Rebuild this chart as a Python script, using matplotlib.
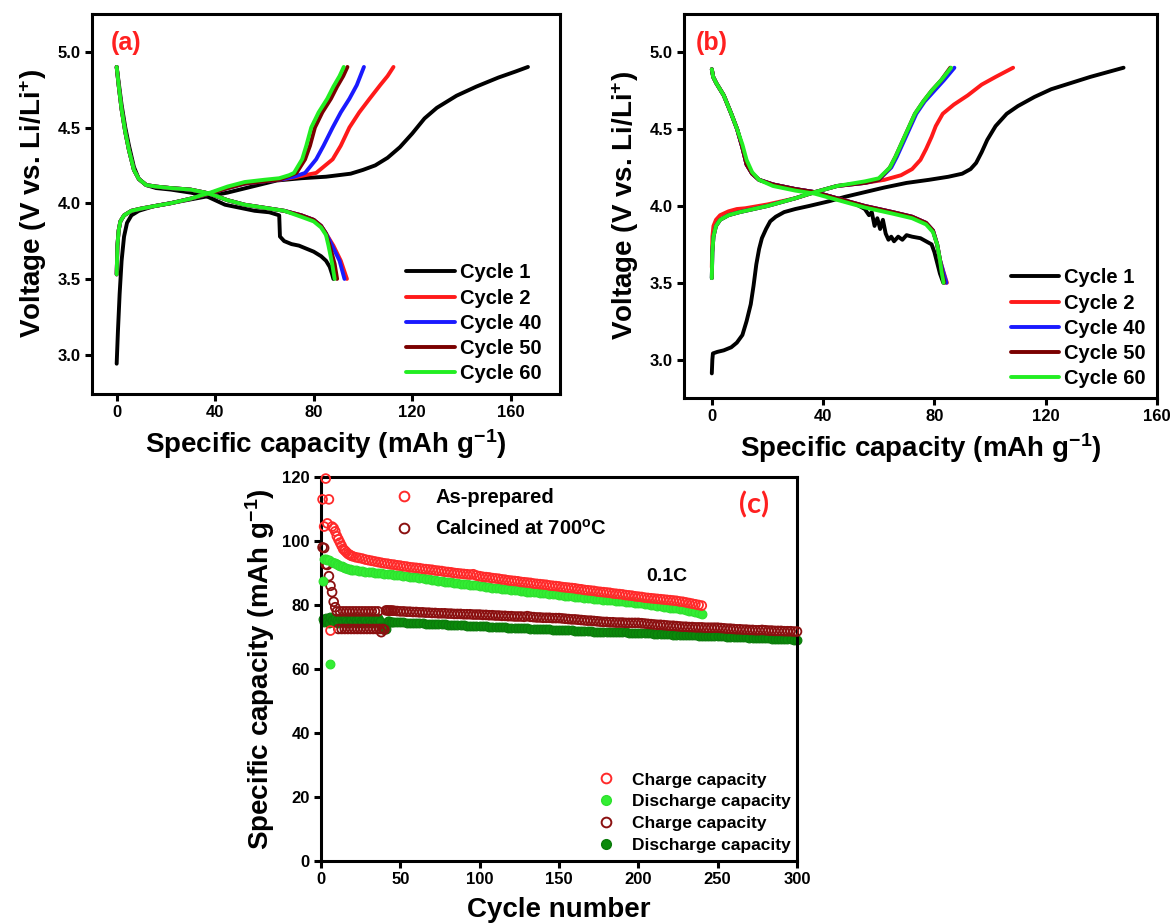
import matplotlib
matplotlib.use('Agg')
import matplotlib.pyplot as plt
from matplotlib.lines import Line2D

plt.rcParams['font.family'] = ['Liberation Sans', 'DejaVu Sans']
plt.rcParams['font.weight'] = 'bold'
plt.rcParams['mathtext.fontset'] = 'custom'
plt.rcParams['mathtext.rm'] = 'Liberation Sans:bold'
plt.rcParams['mathtext.bf'] = 'Liberation Sans:bold'
plt.rcParams['mathtext.it'] = 'Liberation Sans:bold'
plt.rcParams['axes.linewidth'] = 2.2

# ---------------- (a) as-prepared: charge / discharge profiles ----------------
a_c1_chg_cap = [0, 0.5, 1.2, 2.0, 3.0, 4.2, 6, 9, 15, 25, 35, 45, 55, 65, 75, 85, 95, 100, 105, 110, 115, 120, 125, 130, 138, 146, 155, 162, 167]
a_c1_chg_v = [2.94, 3.15, 3.40, 3.62, 3.78, 3.87, 3.92, 3.95, 3.98, 4.01, 4.04, 4.07, 4.11, 4.15, 4.165, 4.175, 4.195, 4.22, 4.25, 4.30, 4.37, 4.46, 4.56, 4.63, 4.71, 4.77, 4.83, 4.87, 4.90]
a_c1_dis_cap = [0, 0.8, 2, 3.5, 5, 7, 9, 12, 16, 22, 30, 36, 40, 44, 50, 56, 62, 66, 66.3, 68, 71, 74, 77, 80, 83, 85, 86.5, 87.5, 88]
a_c1_dis_v = [4.90, 4.80, 4.65, 4.50, 4.38, 4.24, 4.16, 4.12, 4.10, 4.09, 4.07, 4.05, 4.02, 3.99, 3.97, 3.95, 3.94, 3.92, 3.78, 3.75, 3.73, 3.72, 3.70, 3.68, 3.65, 3.62, 3.58, 3.53, 3.50]

a_c2_chg_cap = [0, 0.3, 0.8, 1.5, 3, 6, 10, 15, 22, 30, 38, 45, 52, 60, 66, 72, 81, 87.7, 91, 94.5, 98.5, 102.7, 107, 110, 112.4]
a_c2_chg_v = [3.53, 3.72, 3.82, 3.88, 3.92, 3.95, 3.965, 3.98, 4.0, 4.03, 4.065, 4.10, 4.13, 4.145, 4.155, 4.17, 4.20, 4.29, 4.38, 4.50, 4.60, 4.69, 4.78, 4.84, 4.90]
a_c40_chg_cap = [0, 0.3, 0.8, 1.5, 3, 6, 10, 15, 22, 30, 38, 45, 52, 60, 66, 72, 76.5, 81, 84, 87.7, 91, 94.5, 97.5, 100.4]
a_c40_chg_v = [3.53, 3.72, 3.82, 3.88, 3.92, 3.95, 3.965, 3.98, 4.0, 4.03, 4.065, 4.10, 4.13, 4.145, 4.155, 4.175, 4.20, 4.29, 4.38, 4.50, 4.60, 4.69, 4.78, 4.90]
a_c50_chg_cap = [0, 0.3, 0.8, 1.5, 3, 6, 10, 15, 22, 30, 38, 45, 52, 60, 66, 70, 73, 76.5, 78.5, 80.5, 83.5, 87, 89.5, 92, 93.7]
a_c50_chg_v = [3.53, 3.72, 3.82, 3.88, 3.92, 3.95, 3.965, 3.98, 4.0, 4.03, 4.065, 4.10, 4.13, 4.145, 4.155, 4.18, 4.20, 4.29, 4.38, 4.50, 4.60, 4.69, 4.77, 4.84, 4.90]
a_c60_chg_cap = [0, 0.3, 0.8, 1.5, 3, 6, 10, 15, 22, 30, 38, 45, 52, 60, 66, 70, 72, 75.3, 77, 79, 82, 85.5, 88, 90.5, 92.2]
a_c60_chg_v = [3.53, 3.72, 3.82, 3.88, 3.92, 3.95, 3.965, 3.98, 4.0, 4.03, 4.07, 4.11, 4.14, 4.155, 4.165, 4.185, 4.20, 4.29, 4.38, 4.50, 4.60, 4.69, 4.77, 4.84, 4.90]

a_c2_dis_cap = [0, 0.8, 2, 3.5, 5, 7, 9, 12, 16, 22, 30, 36, 40, 45, 52, 60, 68, 75, 80, 83, 85, 88, 91, 93.5]
a_c2_dis_v = [4.90, 4.78, 4.62, 4.47, 4.35, 4.22, 4.16, 4.12, 4.11, 4.10, 4.09, 4.07, 4.05, 4.02, 3.99, 3.97, 3.95, 3.92, 3.89, 3.85, 3.80, 3.72, 3.62, 3.50]
a_c40_dis_cap = [0, 0.8, 2, 3.5, 5, 7, 9, 12, 16, 22, 30, 36, 40, 45, 52, 60, 68, 75, 80, 83, 85, 87.5, 90.5, 92.5]
a_c40_dis_v = [4.90, 4.78, 4.62, 4.47, 4.35, 4.22, 4.16, 4.12, 4.11, 4.10, 4.09, 4.07, 4.05, 4.02, 3.99, 3.97, 3.95, 3.92, 3.89, 3.85, 3.80, 3.72, 3.62, 3.50]
a_c50_dis_cap = [0, 0.8, 2, 3.5, 5, 7, 9, 12, 16, 22, 30, 36, 40, 45, 52, 60, 68, 75, 80, 83, 85, 86.5, 88.5, 89.5]
a_c50_dis_v = [4.90, 4.78, 4.62, 4.47, 4.35, 4.22, 4.16, 4.12, 4.11, 4.10, 4.09, 4.07, 4.05, 4.02, 3.99, 3.97, 3.95, 3.92, 3.89, 3.85, 3.80, 3.72, 3.60, 3.50]
a_c60_dis_cap = [0, 0.8, 2, 3.5, 5, 7, 9, 12, 16, 22, 30, 36, 40, 45, 52, 60, 68, 75, 80, 83, 85, 86, 87.5, 88.5]
a_c60_dis_v = [4.90, 4.78, 4.62, 4.47, 4.35, 4.22, 4.16, 4.12, 4.11, 4.10, 4.09, 4.07, 4.05, 4.02, 3.99, 3.97, 3.95, 3.91, 3.88, 3.84, 3.79, 3.72, 3.60, 3.50]

# ---------------- (b) calcined: charge / discharge profiles ----------------
b_c1_chg_cap = [0, 0.2, 0.4, 2, 4.3, 7, 9, 11, 12.5, 14, 15, 16, 17, 18, 19.5, 21, 23, 26, 30, 35, 42, 48, 55, 62, 70, 78, 85, 90, 93, 95, 97, 99, 102, 106, 110, 116, 122, 129, 136, 142, 148]
b_c1_chg_v = [2.91, 3.0, 3.04, 3.05, 3.06, 3.08, 3.11, 3.16, 3.25, 3.36, 3.48, 3.62, 3.72, 3.79, 3.85, 3.90, 3.93, 3.96, 3.98, 4.0, 4.03, 4.06, 4.09, 4.12, 4.15, 4.17, 4.19, 4.21, 4.24, 4.28, 4.35, 4.43, 4.52, 4.60, 4.65, 4.71, 4.76, 4.80, 4.84, 4.87, 4.90]
b_c1_dis_cap = [0, 0.5, 1.6, 4.3, 7, 9.1, 11, 12.5, 14.5, 17, 22, 30, 37, 45, 52, 55, 56.5, 57.5, 58.5, 59.5, 60.5, 61.5, 62.5, 63.5, 64.5, 65.5, 67, 68.5, 70, 72, 75, 77, 79, 80, 81, 82, 83.2]
b_c1_dis_v = [4.89, 4.84, 4.80, 4.72, 4.60, 4.50, 4.38, 4.27, 4.21, 4.17, 4.14, 4.11, 4.09, 4.05, 4.01, 3.98, 3.94, 3.96, 3.87, 3.92, 3.85, 3.91, 3.82, 3.78, 3.80, 3.77, 3.80, 3.78, 3.81, 3.80, 3.79, 3.77, 3.75, 3.70, 3.63, 3.56, 3.50]

b_c2_chg_cap = [0, 0.2, 0.6, 1.5, 3, 6, 9, 12, 20, 30, 37, 45, 55, 62, 68, 72, 75, 77, 79, 80.5, 83, 87, 92, 97, 102, 108.3]
b_c2_chg_v = [3.60, 3.80, 3.87, 3.91, 3.94, 3.965, 3.98, 3.985, 4.01, 4.05, 4.09, 4.13, 4.15, 4.17, 4.20, 4.24, 4.30, 4.37, 4.45, 4.52, 4.60, 4.66, 4.72, 4.79, 4.84, 4.90]
b_c40_chg_cap = [0, 0.2, 0.6, 1.5, 3, 6, 10, 20, 30, 37, 45, 55, 60, 64.5, 66.5, 69, 71.5, 73.5, 76.5, 80, 83.5, 87.2]
b_c40_chg_v = [3.53, 3.70, 3.80, 3.87, 3.91, 3.94, 3.96, 4.0, 4.05, 4.09, 4.13, 4.15, 4.17, 4.25, 4.32, 4.42, 4.52, 4.60, 4.68, 4.75, 4.82, 4.90]
b_c50_chg_cap = [0, 0.2, 0.6, 1.5, 3, 6, 10, 20, 30, 37, 45, 55, 60, 64, 66, 68.5, 71, 73, 76, 79, 82.5, 85.7]
b_c50_chg_v = [3.53, 3.70, 3.80, 3.87, 3.91, 3.94, 3.96, 4.0, 4.05, 4.09, 4.13, 4.15, 4.17, 4.25, 4.32, 4.42, 4.52, 4.60, 4.68, 4.75, 4.82, 4.90]
b_c60_chg_cap = [0, 0.2, 0.6, 1.5, 3, 6, 10, 20, 30, 37, 45, 55, 60, 64, 66, 68.5, 71, 73, 76, 79, 82.5, 86]
b_c60_chg_v = [3.53, 3.70, 3.80, 3.87, 3.91, 3.94, 3.96, 4.0, 4.05, 4.09, 4.13, 4.16, 4.18, 4.25, 4.32, 4.42, 4.52, 4.60, 4.68, 4.75, 4.82, 4.90]

b_c2_dis_cap = [0, 0.5, 1.6, 4.3, 7, 9.1, 11, 12.5, 14.5, 17, 22, 30, 37, 45, 55, 65, 72, 77, 79.5, 81, 82, 83.3, 84.5]
b_c2_dis_v = [4.89, 4.84, 4.80, 4.72, 4.60, 4.50, 4.38, 4.27, 4.21, 4.17, 4.14, 4.11, 4.09, 4.05, 4.00, 3.96, 3.93, 3.89, 3.84, 3.75, 3.65, 3.57, 3.50]
b_c40_dis_cap = [0, 0.5, 1.6, 4.3, 7, 9.1, 11, 12.5, 14.5, 17, 22, 30, 37, 45, 55, 65, 72, 77, 79.5, 81, 82, 83.2, 84.3]
b_c40_dis_v = [4.89, 4.84, 4.80, 4.72, 4.60, 4.50, 4.38, 4.27, 4.21, 4.17, 4.14, 4.11, 4.09, 4.05, 4.00, 3.96, 3.93, 3.89, 3.84, 3.75, 3.65, 3.57, 3.50]
b_c50_dis_cap = [0, 0.5, 1.6, 4.3, 7, 9.1, 11, 12.5, 14.5, 17, 22, 30, 37, 45, 55, 65, 72, 77, 79.5, 81, 82, 82.8, 83.6]
b_c50_dis_v = [4.89, 4.84, 4.80, 4.72, 4.60, 4.50, 4.38, 4.27, 4.21, 4.17, 4.14, 4.11, 4.09, 4.05, 4.00, 3.96, 3.93, 3.89, 3.84, 3.75, 3.65, 3.57, 3.50]
b_c60_dis_cap = [0, 0.5, 1.6, 4.3, 7, 9.1, 11, 12.5, 14.5, 17, 22, 30, 37, 45, 55, 65, 72, 77, 79.5, 81, 82, 82.6, 83.3]
b_c60_dis_v = [4.89, 4.84, 4.80, 4.72, 4.60, 4.50, 4.40, 4.30, 4.22, 4.17, 4.13, 4.10, 4.08, 4.04, 3.99, 3.95, 3.92, 3.88, 3.83, 3.75, 3.65, 3.57, 3.50]

# ---------------- (c) cycling ----------------
ap_cycles = list(range(1, 21)) + list(range(22, 241, 2))
ap_charge = [113.0, 104.5, 119.5, 105.5, 113.0, 72.0, 104.5, 104.0, 103.0, 101.5,
             100.5, 99.5, 98.5, 97.5, 97.0, 96.5, 96.0, 95.7, 95.4, 95.2,
             94.9, 94.7, 94.5, 94.2, 94.0, 93.8, 93.6, 93.4, 93.2, 93.0,
             92.9, 92.7, 92.6, 92.4, 92.3, 92.1, 92.0, 91.8, 91.7, 91.6,
             91.5, 91.3, 91.2, 91.1, 91.0, 90.8, 90.7, 90.6, 90.4, 90.3,
             90.2, 90.0, 89.9, 89.8, 89.7, 89.6, 89.5, 89.6, 89.2, 89.0,
             88.8, 88.7, 88.6, 88.4, 88.3, 88.2, 88.0, 87.9, 87.7, 87.6,
             87.5, 87.4, 87.2, 87.1, 87.0, 86.9, 86.7, 86.6, 86.5, 86.4,
             86.3, 86.1, 86.0, 85.9, 85.8, 85.6, 85.5, 85.4, 85.3, 85.2,
             85.0, 84.9, 84.7, 84.6, 84.5, 84.4, 84.2, 84.1, 84.0, 83.9,
             83.8, 83.6, 83.5, 83.4, 83.3, 83.1, 83.0, 82.9, 82.7, 82.6,
             82.5, 82.3, 82.2, 82.1, 82.0, 81.9, 81.8, 81.7, 81.6, 81.5,
             81.4, 81.3, 81.1, 81.0, 80.8, 80.6, 80.4, 80.2, 80.0, 79.8]
ap_discharge = [87.5, 94.5, 94.5, 94.2, 94.0, 61.5, 93.5, 93.2, 93.0, 92.8,
                92.5, 92.3, 92.1, 91.9, 91.7, 91.5, 91.3, 91.2, 91.0, 90.9,
                90.8, 90.7, 90.6, 90.4, 90.3, 90.2, 90.1, 90.0, 89.9, 89.8,
                89.7, 89.6, 89.5, 89.4, 89.3, 89.1, 89.0, 88.8, 88.7, 88.6,
                88.4, 88.3, 88.1, 88.0, 87.9, 87.7, 87.6, 87.5, 87.3, 87.2,
                87.1, 86.9, 86.8, 86.7, 86.6, 86.5, 86.3, 86.2, 86.1, 86.0,
                85.8, 85.7, 85.6, 85.4, 85.3, 85.2, 85.1, 85.0, 84.9, 84.8,
                84.7, 84.6, 84.4, 84.3, 84.2, 84.1, 84.0, 83.9, 83.8, 83.7,
                83.6, 83.5, 83.4, 83.3, 83.2, 83.1, 82.9, 82.8, 82.7, 82.6,
                82.5, 82.4, 82.3, 82.2, 82.1, 82.0, 81.9, 81.8, 81.7, 81.6,
                81.5, 81.4, 81.3, 81.2, 81.1, 81.0, 80.9, 80.8, 80.7, 80.6,
                80.5, 80.3, 80.2, 80.0, 79.9, 79.8, 79.6, 79.5, 79.4, 79.2,
                79.1, 78.9, 78.8, 78.6, 78.4, 78.2, 78.0, 77.8, 77.6, 77.3]

cal_cycles = list(range(1, 46)) + list(range(46, 301, 2))
cal_charge = [98.0, 97.8, 92.7, 92.5, 89.0, 86.0, 84.0, 81.0, 79.3,
              78.0, 72.5, 78.0, 72.5, 78.0, 72.5, 78.0, 72.5, 78.0, 72.5,
              78.0, 72.5, 78.0, 72.5, 78.0, 72.5, 78.0, 72.5, 78.0, 72.5,
              78.0, 72.5, 78.0, 72.5, 78.0, 72.5, 78.0, 72.5,
              71.5, 72.5, 72.3, 78.3, 78.3, 78.2, 78.3, 78.2,
              78.2, 78.1, 78.0, 78.0, 77.9, 77.9, 77.8, 77.8, 77.7, 77.7,
              77.6, 77.6, 77.5, 77.5, 77.4, 77.4, 77.4, 77.3, 77.3, 77.2,
              77.2, 77.2, 77.1, 77.1, 77.1, 77.0, 77.0, 77.0, 76.9, 76.9,
              76.8, 76.8, 76.7, 76.7, 76.6, 76.6, 76.5, 76.5, 76.4, 76.4,
              76.4, 76.3, 76.5, 76.3, 76.2, 76.1, 76.1, 76.0, 76.0, 76.0,
              75.9, 75.9, 75.9, 75.8, 75.7, 75.6, 75.5, 75.5, 75.4, 75.3,
              75.2, 75.1, 75.1, 75.0, 74.9, 74.8, 74.7, 74.7, 74.6, 74.6,
              74.5, 74.5, 74.5, 74.4, 74.4, 74.4, 74.4, 74.4, 74.3, 74.2,
              74.1, 74.0, 73.9, 73.8, 73.8, 73.7, 73.6, 73.5, 73.5, 73.4,
              73.3, 73.2, 73.2, 73.1, 73.1, 73.0, 73.0, 73.0, 72.9, 72.9,
              72.9, 72.9, 72.9, 72.8, 72.7, 72.6, 72.6, 72.5, 72.4, 72.4,
              72.3, 72.3, 72.2, 72.2, 72.1, 72.1, 72.2, 72.1, 72.0, 72.0,
              71.9, 71.9, 71.9, 71.8, 71.8, 71.8, 71.7, 71.7]
cal_discharge = [75.5, 74.8, 76.0, 75.0, 74.3, 76.2, 75.4, 74.6, 75.8, 75.2,
                 74.5, 76.0, 75.3, 74.6, 75.9, 75.0, 74.4, 75.7, 75.2, 74.6,
                 76.1, 75.3, 74.5, 75.8, 75.0, 74.4, 75.9, 75.2, 74.6, 75.9,
                 75.1, 74.5, 75.8, 75.3, 74.7, 75.9, 75.0, 73.0, 72.5, 72.4,
                 72.6, 74.9, 74.9, 74.8, 74.8,
                 74.8, 74.7, 74.6, 74.6, 74.5, 74.5, 74.4, 74.4, 74.3, 74.3,
                 74.2, 74.1, 74.1, 74.0, 74.0, 73.9, 73.9, 73.8, 73.8, 73.7,
                 73.7, 73.6, 73.6, 73.5, 73.5, 73.5, 73.4, 73.4, 73.3, 73.3,
                 73.2, 73.2, 73.1, 73.1, 73.0, 73.0, 72.9, 72.9, 72.8, 72.8,
                 72.8, 72.7, 72.7, 72.6, 72.6, 72.5, 72.5, 72.5, 72.4, 72.4,
                 72.3, 72.3, 72.3, 72.2, 72.2, 72.1, 72.1, 72.0, 72.0, 71.9,
                 71.9, 71.8, 71.8, 71.7, 71.7, 71.7, 71.6, 71.6, 71.5, 71.5,
                 71.5, 71.4, 71.4, 71.4, 71.3, 71.3, 71.3, 71.3, 71.2, 71.2,
                 71.1, 71.1, 71.0, 71.0, 70.9, 70.9, 70.8, 70.8, 70.7, 70.7,
                 70.7, 70.6, 70.6, 70.5, 70.5, 70.5, 70.4, 70.4, 70.4, 70.3,
                 70.3, 70.3, 70.3, 70.2, 70.2, 70.1, 70.1, 70.0, 70.0, 69.9,
                 69.9, 69.9, 69.8, 69.8, 69.7, 69.7, 69.7, 69.6, 69.6, 69.5,
                 69.5, 69.5, 69.4, 69.4, 69.3, 69.3, 69.2, 69.2]

cycle_labels = ['Cycle 1', 'Cycle 2', 'Cycle 40', 'Cycle 50', 'Cycle 60']
cycle_colors = ['#000000', '#ff1a1a', '#1a1aff', '#7a0000', '#22ee22']

RED = '#ff2020'


def style_axis(ax):
    ax.tick_params(direction='out', length=5, width=2.2, labelsize=12, pad=3)
    for lab in ax.get_xticklabels() + ax.get_yticklabels():
        lab.set_fontweight('bold')


fig = plt.figure(figsize=(11.71, 9.24), dpi=100)

# ---- panel (a) ----
ax_a = fig.add_axes([0.0786, 0.5736, 0.3996, 0.4113])
a_sets = [(a_c1_chg_cap, a_c1_chg_v, a_c1_dis_cap, a_c1_dis_v),
          (a_c2_chg_cap, a_c2_chg_v, a_c2_dis_cap, a_c2_dis_v),
          (a_c40_chg_cap, a_c40_chg_v, a_c40_dis_cap, a_c40_dis_v),
          (a_c50_chg_cap, a_c50_chg_v, a_c50_dis_cap, a_c50_dis_v),
          (a_c60_chg_cap, a_c60_chg_v, a_c60_dis_cap, a_c60_dis_v)]
for (cc, cv, dc, dv), lab, col in zip(a_sets, cycle_labels, cycle_colors):
    ax_a.plot(cc, cv, color=col, lw=2.8, label=lab, solid_capstyle='round')
    ax_a.plot(dc, dv, color=col, lw=2.8, solid_capstyle='round')
ax_a.set_xlim(-10, 180)
ax_a.set_ylim(2.74, 5.25)
ax_a.set_xticks([0, 40, 80, 120, 160])
ax_a.set_yticks([3.0, 3.5, 4.0, 4.5, 5.0])
ax_a.set_xlabel(r'Specific capacity (mAh g$^{-1}$)', fontsize=20, fontweight='bold', labelpad=5)
ax_a.set_ylabel(r'Voltage (V vs. Li/Li$^{+}$)', fontsize=20, fontweight='bold', labelpad=6)
style_axis(ax_a)
ax_a.legend(loc='lower right', bbox_to_anchor=(0.96, 0.028), frameon=False, fontsize=14.5,
            handlelength=2.4, handletextpad=0.25, labelspacing=0.31, borderpad=0, borderaxespad=0)
ax_a.text(0.072, 0.924, '(a)', transform=ax_a.transAxes, color=RED, fontsize=18,
          fontweight='bold', ha='center', va='center')

# ---- panel (b) ----
ax_b = fig.add_axes([0.5841, 0.5693, 0.4039, 0.4156])
b_sets = [(b_c1_chg_cap, b_c1_chg_v, b_c1_dis_cap, b_c1_dis_v),
          (b_c2_chg_cap, b_c2_chg_v, b_c2_dis_cap, b_c2_dis_v),
          (b_c40_chg_cap, b_c40_chg_v, b_c40_dis_cap, b_c40_dis_v),
          (b_c50_chg_cap, b_c50_chg_v, b_c50_dis_cap, b_c50_dis_v),
          (b_c60_chg_cap, b_c60_chg_v, b_c60_dis_cap, b_c60_dis_v)]
for (cc, cv, dc, dv), lab, col in zip(b_sets, cycle_labels, cycle_colors):
    ax_b.plot(cc, cv, color=col, lw=2.8, label=lab, solid_capstyle='round')
    ax_b.plot(dc, dv, color=col, lw=2.8, solid_capstyle='round')
ax_b.set_xlim(-10, 160)
ax_b.set_ylim(2.75, 5.25)
ax_b.set_xticks([0, 40, 80, 120, 160])
ax_b.set_yticks([3.0, 3.5, 4.0, 4.5, 5.0])
ax_b.set_xlabel(r'Specific capacity (mAh g$^{-1}$)', fontsize=20, fontweight='bold', labelpad=5)
ax_b.set_ylabel(r'Voltage (V vs. Li/Li$^{+}$)', fontsize=20, fontweight='bold', labelpad=6)
style_axis(ax_b)
ax_b.legend(loc='lower right', bbox_to_anchor=(0.977, 0.025), frameon=False, fontsize=14.5,
            handlelength=2.4, handletextpad=0.25, labelspacing=0.31, borderpad=0, borderaxespad=0)
ax_b.text(0.059, 0.924, '(b)', transform=ax_b.transAxes, color=RED, fontsize=18,
          fontweight='bold', ha='center', va='center')

# ---- panel (c) ----
ax_c = fig.add_axes([0.2741, 0.0682, 0.4065, 0.4156])
ax_c.scatter(cal_cycles, cal_discharge, s=40, color='#0b8a0b', edgecolors='#0a7a0a',
             linewidths=0.8, zorder=2, clip_on=False)
ax_c.scatter(cal_cycles, cal_charge, s=40, facecolors='none', edgecolors='#8b1010',
             linewidths=1.3, zorder=3, clip_on=False)
ax_c.scatter(ap_cycles, ap_discharge, s=40, color='#33ee33', edgecolors='#2ee02e',
             linewidths=0.8, zorder=4, clip_on=False)
ax_c.scatter(ap_cycles, ap_charge, s=40, facecolors='none', edgecolors='#ff2a2a',
             linewidths=1.3, zorder=5, clip_on=False)
ax_c.set_xlim(0, 300)
ax_c.set_ylim(0, 120)
ax_c.set_xticks([0, 50, 100, 150, 200, 250, 300])
ax_c.set_yticks([0, 20, 40, 60, 80, 100, 120])
ax_c.set_xlabel('Cycle number', fontsize=20, fontweight='bold', labelpad=7)
ax_c.set_ylabel(r'Specific capacity (mAh g$^{-1}$)', fontsize=20, fontweight='bold', labelpad=4)
style_axis(ax_c)

h_ap = Line2D([], [], ls='none', marker='o', ms=7, mfc='none', mec='#ff2a2a', mew=1.4)
h_cal = Line2D([], [], ls='none', marker='o', ms=7, mfc='none', mec='#8b1010', mew=1.4)
leg1 = ax_c.legend([h_ap, h_cal], ['As-prepared', r'Calcined at 700$^{\mathrm{o}}$C'],
                   loc='upper left', bbox_to_anchor=(0.158, 0.972), frameon=False, fontsize=14.5,
                   handlelength=0.8, handletextpad=1.15, labelspacing=0.6, borderpad=0, borderaxespad=0)
ax_c.add_artist(leg1)
h1 = Line2D([], [], ls='none', marker='o', ms=7, mfc='none', mec='#ff2a2a', mew=1.4)
h2 = Line2D([], [], ls='none', marker='o', ms=7, mfc='#33ee33', mec='#2ee02e')
h3 = Line2D([], [], ls='none', marker='o', ms=7, mfc='none', mec='#8b1010', mew=1.4)
h4 = Line2D([], [], ls='none', marker='o', ms=7, mfc='#0b8a0b', mec='#0a7a0a')
ax_c.legend([h1, h2, h3, h4], ['Charge capacity', 'Discharge capacity', 'Charge capacity', 'Discharge capacity'],
            loc='lower left', bbox_to_anchor=(0.583, 0.02), frameon=False, fontsize=12.5,
            handlelength=0.92, handletextpad=1.03, labelspacing=0.39, borderpad=0, borderaxespad=0)
ax_c.text(0.910, 0.927, '(c)', transform=ax_c.transAxes, color=RED, fontsize=21,
          fontweight='bold', family=['Lato', 'DejaVu Sans'], ha='center', va='center')
ax_c.text(0.726, 0.74, '0.1C', transform=ax_c.transAxes, color='black', fontsize=14,
          fontweight='bold', ha='center', va='center')

fig.savefig('out.png', dpi=100)
